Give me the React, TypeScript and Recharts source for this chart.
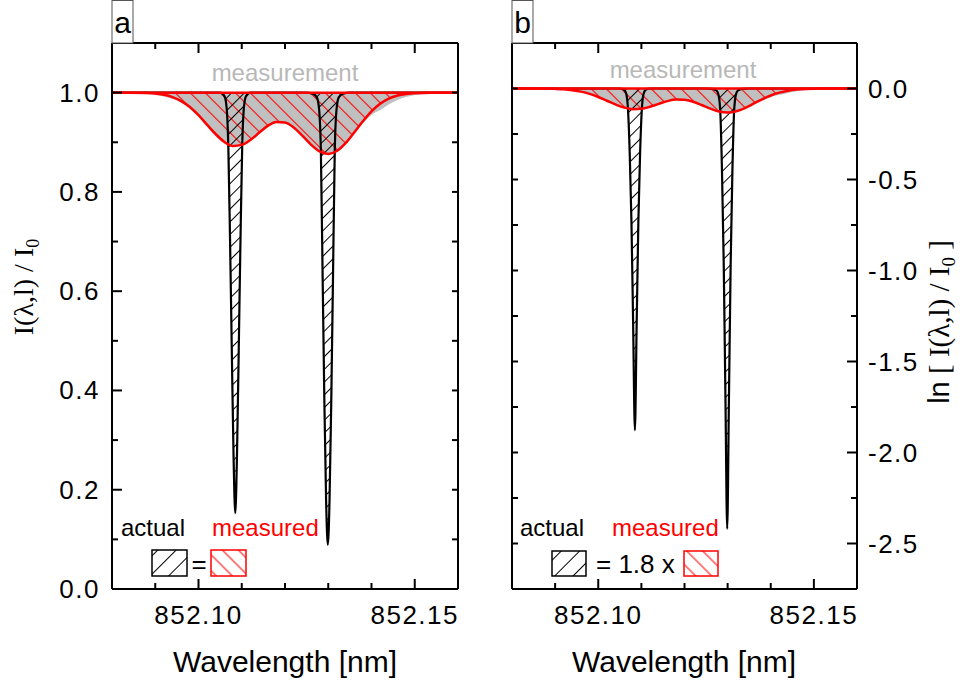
import React from 'react';
import { ComposedChart, Area, Line, XAxis, YAxis, ReferenceLine } from 'recharts';

// wavelength grid of the broad (measured) profiles, nm
const waveFit = [
  852.08, 852.084, 852.088, 852.09, 852.092, 852.094, 852.096, 852.098, 852.1, 852.102,
  852.104, 852.106, 852.108, 852.11, 852.112, 852.114, 852.116, 852.118, 852.12, 852.122,
  852.124, 852.126, 852.128, 852.13, 852.132, 852.134, 852.136, 852.138, 852.14, 852.142,
  852.144, 852.146, 852.148, 852.15, 852.154, 852.16,
];
// panel a, I / I0
const fitA = [
  1.0, 1.0, 0.9993, 0.998, 0.9957, 0.991, 0.983, 0.971, 0.9545, 0.935,
  0.916, 0.9005, 0.8926, 0.8947, 0.9047, 0.919, 0.933, 0.941, 0.94, 0.93,
  0.9135, 0.8954, 0.8815, 0.8766, 0.8825, 0.8983, 0.9197, 0.9423, 0.9624, 0.9776,
  0.988, 0.9941, 0.9973, 0.9989, 0.9999, 1.0,
];
const measA = [
  1.0, 1.0, 0.999, 0.996, 0.992, 0.987, 0.98, 0.969, 0.9535, 0.935,
  0.916, 0.9005, 0.8926, 0.8947, 0.9047, 0.919, 0.933, 0.941, 0.94, 0.93,
  0.9135, 0.8954, 0.8815, 0.8766, 0.8825, 0.8983, 0.918, 0.938, 0.955, 0.965,
  0.976, 0.985, 0.991, 0.995, 0.999, 1.0,
];
// panel b, ln(I / I0)
const fitB = [
  0, 0, -0.0007, -0.002, -0.0043, -0.009, -0.0171, -0.0294, -0.0466, -0.0672,
  -0.0877, -0.1048, -0.1136, -0.1113, -0.1002, -0.0845, -0.0694, -0.0608, -0.0619, -0.0726,
  -0.0905, -0.1105, -0.1261, -0.1317, -0.125, -0.1073, -0.0837, -0.0594, -0.0383, -0.0227,
  -0.0121, -0.0059, -0.0027, -0.0011, -0.0001, 0,
];
const measB = [
  0, 0, -0.001, -0.004, -0.008, -0.0131, -0.0202, -0.0315, -0.0476, -0.0672,
  -0.0877, -0.1048, -0.1136, -0.1113, -0.1002, -0.0845, -0.0694, -0.0608, -0.0619, -0.0726,
  -0.0905, -0.1105, -0.1261, -0.1317, -0.125, -0.1073, -0.0856, -0.064, -0.046, -0.0356,
  -0.0243, -0.0151, -0.009, -0.005, -0.001, 0,
];

// the two narrow (actual) lines
const waveActual = [
  852.08, 852.105, 852.106, 852.1065, 852.1069, 852.1073, 852.1077, 852.1081, 852.1085, 852.1089,
  852.1093, 852.1097, 852.1101, 852.1105, 852.111, 852.112, 852.1249, 852.1264, 852.1274, 852.1279,
  852.1283, 852.1287, 852.1291, 852.1295, 852.1299, 852.1303, 852.1307, 852.1311, 852.1315, 852.1319,
  852.1324, 852.1334, 852.1349, 852.16,
];
const actualA = [
  1.0, 1.0, 0.993, 0.97, 0.89, 0.7, 0.48, 0.27, 0.153, 0.27,
  0.48, 0.7, 0.89, 0.97, 0.993, 1.0, 1.0, 0.998, 0.99, 0.965,
  0.88, 0.63, 0.38, 0.18, 0.089, 0.18, 0.38, 0.63, 0.88, 0.965,
  0.99, 0.998, 1.0, 1.0,
];
const actualB = [
  0, 0, -0.007, -0.03, -0.117, -0.357, -0.734, -1.309, -1.877, -1.309,
  -0.734, -0.357, -0.117, -0.03, -0.007, 0, 0, -0.002, -0.01, -0.036,
  -0.128, -0.462, -0.968, -1.715, -2.419, -1.715, -0.968, -0.462, -0.128, -0.036,
  -0.01, -0.002, 0, 0,
];

const xTicks = [852.09, 852.1, 852.11, 852.12, 852.13, 852.14, 852.15];
const xLabelTicks = [852.1, 852.15];
const yTicksA = [0, 0.1, 0.2, 0.3, 0.4, 0.5, 0.6, 0.7, 0.8, 0.9, 1.0];
const yLabelTicksA = [0, 0.2, 0.4, 0.6, 0.8, 1.0];
const yTicksB = [-2.5, -2.25, -2, -1.75, -1.5, -1.25, -1, -0.75, -0.5, -0.25, 0];
const yLabelTicksB = [-2.5, -2, -1.5, -1, -0.5, 0];

const FONT = 'Liberation Sans, Arial, Helvetica, sans-serif';
const SERIF = 'Liberation Serif, Times New Roman, serif';
const RED = '#ff0000';

const near = (list: number[], v: number) => list.some((t) => Math.abs(t - v) < 1e-6);

const makeXTick = (side: 'top' | 'bottom') => (props: any) => {
  const { x, y, payload } = props;
  const v = payload.value as number;
  const major = near(xLabelTicks, v);
  const dir = side === 'bottom' ? -1 : 1;
  return (
    <g>
      <line x1={x} x2={x} y1={y} y2={y + dir * (major ? 10 : 6)} stroke="#000" strokeWidth={2} />
      {side === 'bottom' && major && (
        <text x={x} y={y + 35} textAnchor="middle" fontFamily={FONT} fontSize={26} letterSpacing={1.5} fill="#000">
          {v.toFixed(2)}
        </text>
      )}
    </g>
  );
};

const makeYTick = (side: 'left' | 'right', labels: number[] | null) => (props: any) => {
  const { x, y, payload } = props;
  const v = payload.value as number;
  const major = labels ? near(labels, v) : false;
  const dir = side === 'left' ? 1 : -1;
  const txt = Math.abs(v) < 1e-9 ? '0.0' : v.toFixed(1);
  return (
    <g>
      <line x1={x} x2={x + dir * (major ? 10 : 6)} y1={y} y2={y} stroke="#000" strokeWidth={2} />
      {labels && major && (
        <text
          x={side === 'left' ? x - 12 : x + 11}
          y={y + 9}
          textAnchor={side === 'left' ? 'end' : 'start'}
          fontFamily={FONT}
          fontSize={26}
          letterSpacing={1.5}
          fill="#000"
        >
          {txt}
        </text>
      )}
    </g>
  );
};

type PanelProps = {
  id: string;
  left: number;
  width: number;
  margin: { top: number; right: number; bottom: number; left: number };
  fit: number[];
  meas: number[];
  actual: number[];
  yDomain: [number, number];
  yTicks: number[];
  yLabels: number[];
  labelSide: 'left' | 'right';
  base: number;
};

const Panel = ({ id, left, width, margin, fit, meas, actual, yDomain, yTicks, yLabels, labelSide, base }: PanelProps) => {
  const fitRows = waveFit.map((w, i) => ({ w, fit: fit[i], meas: meas[i] }));
  const actRows = waveActual.map((w, i) => ({ w, act: actual[i] }));
  const axisLine = { stroke: '#000', strokeWidth: 2 };
  return (
    <div style={{ position: 'absolute', left, top: 0 }}>
      <ComposedChart width={width} height={686} margin={margin} data={fitRows}>
        <defs>
          <pattern id={`red-${id}`} patternUnits="userSpaceOnUse" width={10.6} height={10.6} patternTransform="rotate(-45)">
            <line x1={5.3} y1={0} x2={5.3} y2={10.6} stroke={RED} strokeWidth={1.1} />
          </pattern>
          <pattern id={`blk-${id}`} patternUnits="userSpaceOnUse" width={9} height={9} patternTransform="rotate(45)">
            <line x1={4.5} y1={0} x2={4.5} y2={9} stroke="#000" strokeWidth={1} />
          </pattern>
        </defs>
        <XAxis
          type="number"
          dataKey="w"
          domain={[852.08, 852.16]}
          allowDataOverflow
          ticks={xTicks}
          interval={0}
          height={1}
          tickSize={0}
          tickMargin={0}
          tickLine={false}
          axisLine={axisLine}
          tick={makeXTick('bottom')}
        />
        <XAxis
          xAxisId="top"
          orientation="top"
          type="number"
          dataKey="w"
          domain={[852.08, 852.16]}
          allowDataOverflow
          ticks={xTicks}
          interval={0}
          height={1}
          tickSize={0}
          tickMargin={0}
          tickLine={false}
          axisLine={axisLine}
          tick={makeXTick('top')}
        />
        <YAxis
          type="number"
          domain={yDomain}
          allowDataOverflow
          ticks={yTicks}
          interval={0}
          width={1}
          tickSize={0}
          tickMargin={0}
          tickLine={false}
          axisLine={axisLine}
          tick={makeYTick('left', labelSide === 'left' ? yLabels : null)}
        />
        <YAxis
          yAxisId="right"
          orientation="right"
          type="number"
          domain={yDomain}
          allowDataOverflow
          ticks={yTicks}
          interval={0}
          width={1}
          tickSize={0}
          tickMargin={0}
          tickLine={false}
          axisLine={axisLine}
          tick={makeYTick('right', labelSide === 'right' ? yLabels : null)}
        />
        <Area data={fitRows} dataKey="meas" baseValue={base} type="monotone" stroke="none" fill="#c0c0c0" fillOpacity={1} isAnimationActive={false} />
        <Area data={fitRows} dataKey="fit" baseValue={base} type="monotone" stroke="none" fill={`url(#red-${id})`} fillOpacity={1} isAnimationActive={false} />
        <Area data={actRows} dataKey="act" baseValue={base} type="monotone" stroke="none" fill={`url(#blk-${id})`} fillOpacity={1} isAnimationActive={false} />
        <Line data={actRows} dataKey="act" type="monotone" stroke="#000" strokeWidth={2.2} dot={false} activeDot={false} isAnimationActive={false} />
        <Line data={fitRows} dataKey="fit" type="monotone" stroke={RED} strokeWidth={2.5} dot={false} activeDot={false} isAnimationActive={false} />
        <ReferenceLine y={base} stroke={RED} strokeWidth={2.5} zIndex={450} />
      </ComposedChart>
    </div>
  );
};

const Hatch = ({ x, y, w, h, color, id }: { x: number; y: number; w: number; h: number; color: string; id: string }) => (
  <rect x={x} y={y} width={w} height={h} fill={`url(#${id})`} stroke={color} strokeWidth={1.5} />
);

export default function App() {
  return (
    <div style={{ position: 'absolute', left: 0, top: 0, width: 971, height: 686, background: '#fff' }}>
      <Panel
        id="a"
        left={0}
        width={480}
        margin={{ top: 42, right: 21, bottom: 96, left: 111 }}
        fit={fitA}
        meas={measA}
        actual={actualA}
        yDomain={[0, 1.1]}
        yTicks={yTicksA}
        yLabels={yLabelTicksA}
        labelSide="left"
        base={1}
      />
      <Panel
        id="b"
        left={480}
        width={491}
        margin={{ top: 42, right: 113, bottom: 96, left: 31 }}
        fit={fitB}
        meas={measB}
        actual={actualB}
        yDomain={[-2.75, 0.25]}
        yTicks={yTicksB}
        yLabels={yLabelTicksB}
        labelSide="right"
        base={0}
      />
      <svg width={971} height={686} style={{ position: 'absolute', left: 0, top: 0, pointerEvents: 'none' }}>
        <defs>
          <pattern id="lg-red" patternUnits="userSpaceOnUse" width={11.3} height={11.3} patternTransform="rotate(-45)">
            <line x1={5.6} y1={0} x2={5.6} y2={11.3} stroke={RED} strokeWidth={1} />
          </pattern>
          <pattern id="lg-blk" patternUnits="userSpaceOnUse" width={13} height={13} patternTransform="rotate(45)">
            <line x1={6.5} y1={0} x2={6.5} y2={13} stroke="#000" strokeWidth={1} />
          </pattern>
        </defs>

        {/* panel tags */}
        <rect x={112} y={0.5} width={21} height={42.5} fill="#fff" stroke="#555" strokeWidth={1} />
        <text x={122.5} y={33} textAnchor="middle" fontFamily={FONT} fontSize={30} fill="#000">a</text>
        <rect x={512} y={0.5} width={21} height={42.5} fill="#fff" stroke="#555" strokeWidth={1} />
        <text x={522.5} y={33} textAnchor="middle" fontFamily={FONT} fontSize={30} fill="#000">b</text>

        {/* series captions */}
        <text x={285} y={81} textAnchor="middle" fontFamily={FONT} fontSize={24} fill="#b8b8b8">measurement</text>
        <text x={683} y={78} textAnchor="middle" fontFamily={FONT} fontSize={24} fill="#b8b8b8">measurement</text>

        {/* legend a */}
        <text x={121} y={536} fontFamily={FONT} fontSize={24} fill="#000">actual</text>
        <text x={212} y={536} fontFamily={FONT} fontSize={24} fill={RED}>measured</text>
        <Hatch x={152} y={550} w={35} h={26} color="#000" id="lg-blk" />
        <text x={199} y={573} textAnchor="middle" fontFamily={FONT} fontSize={26} fill="#000">=</text>
        <Hatch x={211} y={550} w={35} h={26} color={RED} id="lg-red" />

        {/* legend b */}
        <text x={520} y={536} fontFamily={FONT} fontSize={24} fill="#000">actual</text>
        <text x={612} y={536} fontFamily={FONT} fontSize={24} fill={RED}>measured</text>
        <Hatch x={552} y={551} w={34} h={25} color="#000" id="lg-blk" />
        <text x={596} y={573} fontFamily={FONT} fontSize={26} fill="#000">= 1.8 x</text>
        <Hatch x={684} y={551} w={34} h={25} color={RED} id="lg-red" />

        {/* axis titles */}
        <text x={285} y={672} textAnchor="middle" fontFamily={FONT} fontSize={30} fill="#000">Wavelength [nm]</text>
        <text x={684} y={672} textAnchor="middle" fontFamily={FONT} fontSize={30} fill="#000">Wavelength [nm]</text>
        <text x={33} y={287} transform="rotate(-90 33 287)" textAnchor="middle" fontFamily={SERIF} fontSize={28} fill="#000">
          I(λ,l) / I<tspan fontSize={18} dy={6}>0</tspan>
        </text>
        <text x={949} y={322} transform="rotate(-90 949 322)" textAnchor="middle" fontFamily={SERIF} fontSize={29} fill="#000">
          <tspan fontFamily={FONT}>ln</tspan> [ I(λ,l) / I<tspan fontSize={19} dy={6}>0</tspan><tspan dy={-6}> ]</tspan>
        </text>
      </svg>
    </div>
  );
}
